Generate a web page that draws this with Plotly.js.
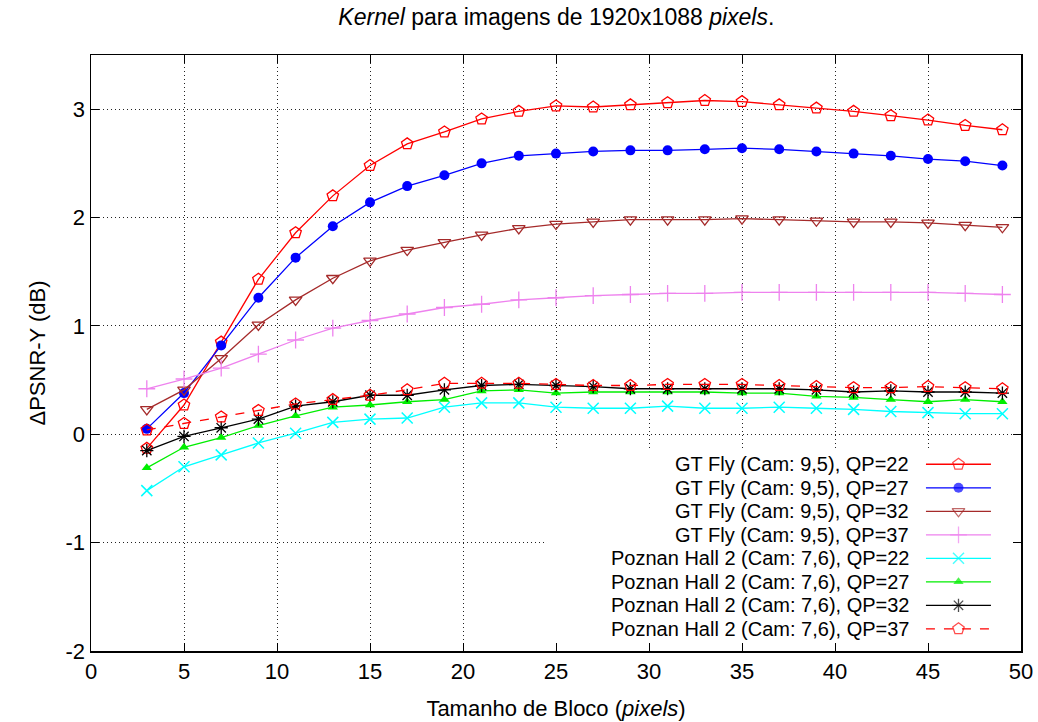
<!DOCTYPE html>
<html>
<head>
<meta charset="utf-8">
<script src="https://cdn.plot.ly/plotly-3.0.1.min.js"></script>
<style>html,body{margin:0;padding:0;background:#fff;}#chart{width:1038px;height:722px;}</style>
</head>
<body>
<div id="chart"></div>
<script>
const blockSizes = [3,5,7,9,11,13,15,17,19,21,23,25,27,29,31,33,35,37,39,41,43,45,47,49];

const gtFlyQP22 = [-0.13,0.27,0.85,1.43,1.86,2.20,2.48,2.68,2.79,2.91,2.98,3.03,3.02,3.04,3.06,3.08,3.07,3.04,3.01,2.98,2.94,2.90,2.85,2.81];
const gtFlyQP27 = [0.05,0.38,0.82,1.26,1.63,1.92,2.14,2.29,2.39,2.50,2.57,2.59,2.61,2.62,2.62,2.63,2.64,2.63,2.61,2.59,2.57,2.54,2.52,2.48];
const gtFlyQP32 = [0.23,0.41,0.70,1.01,1.24,1.44,1.60,1.70,1.77,1.84,1.90,1.94,1.96,1.98,1.98,1.98,1.99,1.98,1.97,1.96,1.96,1.95,1.93,1.91];
const gtFlyQP37 = [0.42,0.51,0.61,0.74,0.87,0.98,1.05,1.11,1.17,1.20,1.24,1.26,1.28,1.29,1.30,1.30,1.31,1.31,1.31,1.31,1.31,1.31,1.30,1.29];
const poznanQP22 = [-0.52,-0.30,-0.19,-0.08,0.01,0.11,0.14,0.15,0.25,0.29,0.29,0.25,0.24,0.24,0.26,0.24,0.24,0.25,0.24,0.23,0.21,0.20,0.19,0.19];
const poznanQP27 = [-0.31,-0.12,-0.03,0.08,0.17,0.25,0.27,0.30,0.32,0.40,0.41,0.38,0.39,0.39,0.39,0.39,0.38,0.38,0.35,0.34,0.32,0.30,0.32,0.30];
const poznanQP32 = [-0.15,-0.02,0.06,0.14,0.26,0.30,0.36,0.36,0.41,0.45,0.46,0.45,0.44,0.42,0.42,0.42,0.42,0.42,0.41,0.39,0.40,0.39,0.39,0.38];
const poznanQP37 = [0.04,0.10,0.16,0.22,0.28,0.32,0.36,0.41,0.47,0.47,0.47,0.46,0.45,0.45,0.46,0.46,0.46,0.45,0.44,0.43,0.43,0.44,0.43,0.42];

const seriesNames = [
  "GT Fly (Cam: 9,5), QP=22",
  "GT Fly (Cam: 9,5), QP=27",
  "GT Fly (Cam: 9,5), QP=32",
  "GT Fly (Cam: 9,5), QP=37",
  "Poznan Hall 2 (Cam: 7,6), QP=22",
  "Poznan Hall 2 (Cam: 7,6), QP=27",
  "Poznan Hall 2 (Cam: 7,6), QP=32",
  "Poznan Hall 2 (Cam: 7,6), QP=37"
];
const seriesValues = [gtFlyQP22, gtFlyQP27, gtFlyQP32, gtFlyQP37, poznanQP22, poznanQP27, poznanQP32, poznanQP37];

const xTicks = [0,5,10,15,20,25,30,35,40,45,50];
const yTicks = [-2,-1,0,1,2,3];

const FONT = 'Liberation Sans, Arial, Helvetica, sans-serif';

const styles = [
  {color:'#ff0000', symbol:'pentagon-open', size:12, dash:'solid', mlw:1.3},
  {color:'#0000ff', symbol:'circle', size:10, dash:'solid', mlw:0},
  {color:'#a52a2a', symbol:'triangle-down-open', size:11, dash:'solid', mlw:1.3},
  {color:'#ee82ee', symbol:'cross-thin-open', size:12, dash:'solid', mlw:1.3},
  {color:'#00ffff', symbol:'x-thin-open', size:11, dash:'solid', mlw:1.5},
  {color:'#00ee00', symbol:'triangle-up', size:9, dash:'solid', mlw:0},
  {color:'#000000', symbol:'asterisk-open', size:11, dash:'solid', mlw:1.3},
  {color:'#ff0000', symbol:'pentagon-open', size:12, dash:'dash', mlw:1.3}
];

const traces = [];
seriesValues.forEach((vals, i) => {
  const s = styles[i];
  traces.push({
    x: blockSizes, y: vals, name: seriesNames[i], type:'scatter', mode:'lines+markers',
    line:{color:s.color, width:1.3, dash:s.dash},
    marker:{symbol:s.symbol, size:s.size, color:s.color, line:{color:s.color, width:s.mlw}},
    showlegend:false, xaxis:'x', yaxis:'y', cliponaxis:false
  });
});

// Opaque legend background (gnuplot key box without border), on hidden overlay axes
traces.push({
  x:[0.488, 0.994, 0.994, 0.488, 0.488], y:[0.016, 0.016, 0.337, 0.337, 0.016],
  type:'scatter', mode:'lines', fill:'toself', fillcolor:'#ffffff', line:{width:0, color:'rgba(0,0,0,0)'},
  xaxis:'x2', yaxis:'y2', showlegend:false, hoverinfo:'skip'
});

// Legend (gnuplot style: right-aligned text, sample on the right)
const legTextX = 0.8806, legX0 = 0.8978, legX1 = 0.9677, legXm = 0.9328;
const legRows = [0.3133,0.2738,0.2344,0.1950,0.1555,0.1161,0.0767,0.0372];
const annotations = [];
seriesNames.forEach((nm, i) => {
  const s = styles[i];
  traces.push({
    x:[legX0, legXm, legX1], y:[legRows[i], legRows[i], legRows[i]],
    type:'scatter', mode:'lines+markers', xaxis:'x2', yaxis:'y2', showlegend:false, hoverinfo:'skip',
    line:{color:s.color, width:1.3, dash:s.dash},
    marker:{symbol:s.symbol, size:[0, s.size, 0], color:s.color, line:{color:s.color, width:s.mlw}}
  });
  annotations.push({
    xref:'paper', yref:'paper', x:legTextX, y:legRows[i], xanchor:'right', yanchor:'middle',
    text:nm, showarrow:false, borderpad:0, font:{family:FONT, size:20, color:'#000'}
  });
});

const layout = {
  width:1038, height:722,
  margin:{l:91, r:17, t:55, b:71},
  paper_bgcolor:'#fff', plot_bgcolor:'#fff',
  font:{family:FONT, size:22, color:'#000'},
  title:{text:'<i>Kernel</i> para imagens de 1920x1088 <i>pixels</i>.', x:0.536, xanchor:'center', y:0.976, yanchor:'middle',
         font:{size:23, family:FONT, color:'#000'}},
  showlegend:false,
  xaxis:{
    range:[0,50], tickvals:xTicks, ticktext:xTicks.map(String), ticks:'inside', ticklen:8, tickwidth:1, tickcolor:'#000',
    showline:true, linecolor:'#000', linewidth:1.5, mirror:'allticks', zeroline:false,
    showgrid:true, gridcolor:'#222', griddash:'1px,3px', gridwidth:1,
    title:{text:'Tamanho de Bloco (<i>pixels</i>)', standoff:17, font:{size:22}},
    tickfont:{size:22}
  },
  yaxis:{
    range:[-2,3.5], tickvals:yTicks, ticktext:yTicks.map(String), ticks:'inside', ticklen:8, tickwidth:1, tickcolor:'#000',
    showline:true, linecolor:'#000', linewidth:1.5, mirror:'allticks', zeroline:false,
    showgrid:true, gridcolor:'#222', griddash:'1px,3px', gridwidth:1,
    title:{text:'ΔPSNR-Y (dB)', standoff:14, font:{size:22}},
    tickfont:{size:22}
  },
  xaxis2:{overlaying:'x', range:[0,1], visible:false, fixedrange:true},
  yaxis2:{overlaying:'y', range:[0,1], visible:false, fixedrange:true},
  annotations: annotations
};

Plotly.newPlot('chart', traces, layout, {displayModeBar:false, staticPlot:true});
</script>
</body>
</html>
